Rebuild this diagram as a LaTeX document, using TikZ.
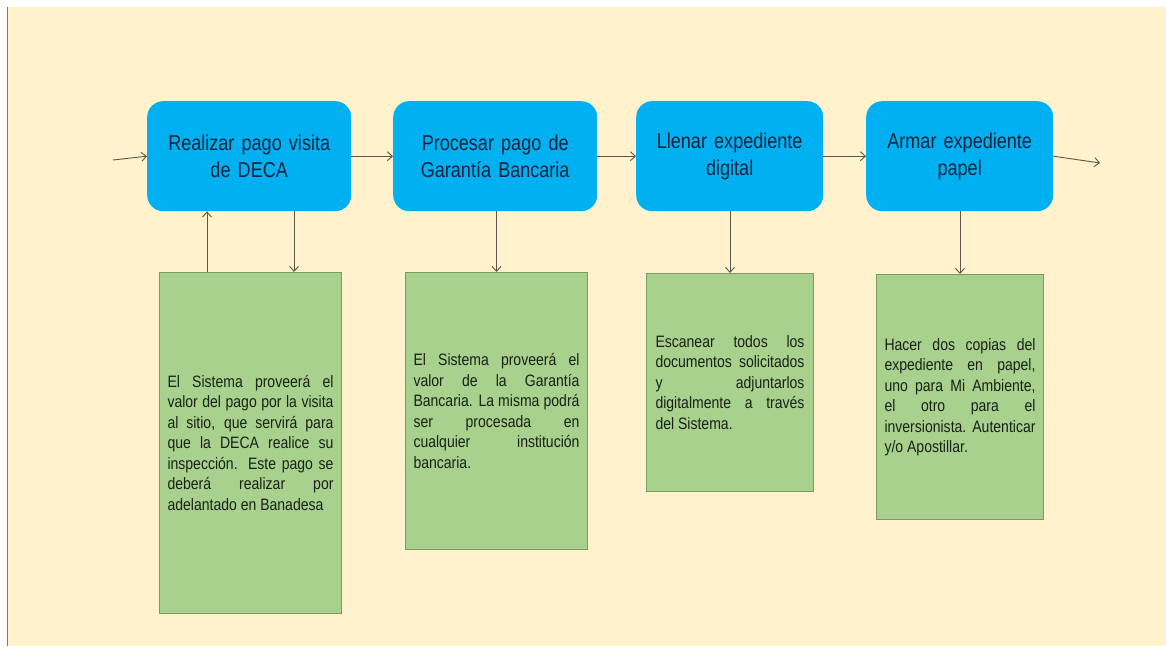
\documentclass[tikz,border=0pt]{standalone}
\usepackage{fontspec}
\setmainfont{Liberation Sans}
\newfontfamily\nfa[FakeStretch=0.84]{Liberation Sans}
\newfontfamily\nfb[FakeStretch=0.85]{Liberation Sans}
\usetikzlibrary{arrows.meta,calc}
\definecolor{bgc}{HTML}{FFF2CC}
\definecolor{bluebox}{HTML}{00B0F0}
\definecolor{greenbox}{HTML}{A9D18E}
\definecolor{greenline}{HTML}{7C9A60}
\definecolor{arrc}{HTML}{5A5648}
\definecolor{navy}{HTML}{15243F}
\definecolor{edgeline}{HTML}{6F7F6F}
\definecolor{notetext}{HTML}{1A2016}
\hbadness=10000
\tolerance=10000
\hyphenpenalty=10000
\begin{document}
\begin{tikzpicture}[x=1pt,y=-1pt,
  stepbox/.style={rectangle, rounded corners=16pt, fill=bluebox, draw=none,
    minimum height=110pt, text=navy, align=center, inner sep=0pt,
    font=\nfa\fontsize{21.5}{27}\selectfont, anchor=north west},
  notebox/.style={rectangle, fill=greenbox, draw=greenline, line width=1pt,
    text=notetext, align=justify, inner sep=0pt,
    font=\nfb\fontsize{16.5}{20.5}\selectfont, anchor=north west},
  arr/.style={draw=arrc, line width=0.9pt, -{Straight Barb[length=5pt,width=9pt]}}]
% background
\fill[white] (0,0) rectangle (1166,646);
\fill[bgc] (7,7) rectangle (1166,646);
\draw[edgeline, line width=1.2pt] (7.5,7) -- (7.5,646);
% process steps
\node[stepbox, minimum width=204pt, text width=200pt] (B1) at (147,101) {Realizar pago visita\\de DECA};
\node[stepbox, minimum width=204pt, text width=200pt] (B2) at (393,101) {Procesar pago de\\Garantía Bancaria};
\node[stepbox, minimum width=187pt, text width=183pt] (B3) at (636,101) {Llenar expediente\\digital};
\node[stepbox, minimum width=187pt, text width=183pt] (B4) at (866,101) {Armar expediente\\papel};
% notes
\node[notebox, minimum width=182pt, minimum height=341pt, text width=166pt] (G1) at (159,272)
 {El Sistema proveerá el\linebreak valor del pago por la visita\linebreak al sitio, que servirá para\linebreak que la DECA realice su\linebreak inspección. Este pago se\linebreak deberá realizar por\linebreak adelantado en Banadesa};
\node[notebox, minimum width=182pt, minimum height=277pt, text width=166pt] (G2) at (405,272)
 {El Sistema proveerá el\linebreak valor de la Garantía\linebreak Bancaria. La misma podrá\linebreak ser procesada en\linebreak cualquier institución\linebreak bancaria.};
\node[notebox, minimum width=167pt, minimum height=218pt, text width=149pt] (G3) at (646,273)
 {Escanear todos los\linebreak documentos solicitados\linebreak y adjuntarlos\linebreak digitalmente a través\linebreak del Sistema.};
\node[notebox, minimum width=167pt, minimum height=245pt, text width=151pt] (G4) at (876,274)
 {Hacer dos copias del\linebreak expediente en papel,\linebreak uno para Mi Ambiente,\linebreak el otro para el\linebreak inversionista. Autenticar\linebreak y/o Apostillar.};
% free ends
\coordinate (in) at (113,160);
\coordinate (out) at (1100,163);
% connectors
\draw[arr] (in) -- (B1.west);
\draw[arr] (B1) -- (B2);
\draw[arr] (B2) -- (B3);
\draw[arr] (B3) -- (B4);
\draw[arr] (B4.east) -- (out);
\draw[arr] ([xshift=48pt]G1.north west) -- ([xshift=48pt]G1.north west |- B1.south);
\draw[arr] ([xshift=147pt]B1.south west) -- ([xshift=147pt]B1.south west |- G1.north);
\draw[arr] (G2.north |- B2.south) -- (G2.north);
\draw[arr] (G3.north |- B3.south) -- (G3.north);
\draw[arr] (G4.north |- B4.south) -- (G4.north);
\end{tikzpicture}
\end{document}
